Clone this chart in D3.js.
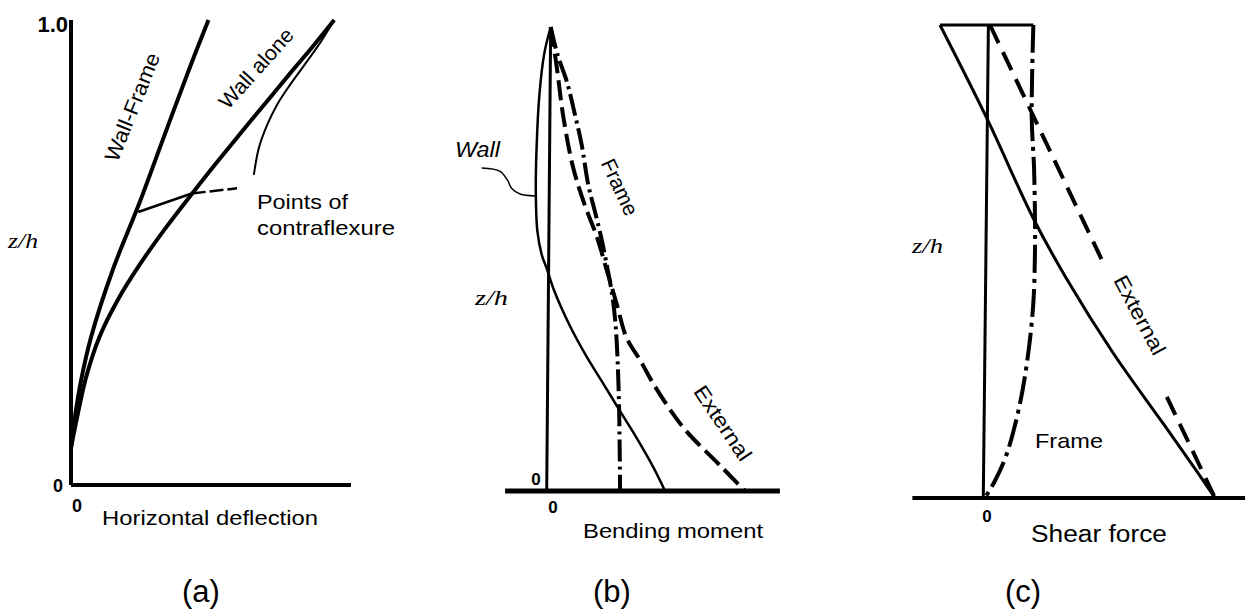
<!DOCTYPE html>
<html><head><meta charset="utf-8">
<script src="https://cdn.jsdelivr.net/npm/d3@7"></script>
<style>
body{margin:0;background:#fff}
svg{display:block;background:#fff}
text{font-family:"Liberation Sans",Arial,sans-serif;fill:#000}
</style>
</head><body>
<svg id="chart" width="1250" height="612"></svg>
<script>
// ---------------- DATA ----------------
// Panel (a): [horizontal deflection (relative), z/h]
const aWallFrame = [[0,0.080],[0.012,0.138],[0.036,0.225],[0.072,0.319],[0.150,0.464],[0.246,0.609],[0.335,0.754],[0.425,0.899],[0.491,1.0]];
const aWallAlone = [[0,0.080],[0.024,0.152],[0.054,0.232],[0.102,0.319],[0.168,0.399],[0.250,0.478],[0.341,0.555],[0.437,0.630],[0.521,0.694],[0.605,0.756],[0.701,0.826],[0.778,0.882],[0.862,0.942],[0.940,1.0]];
const aThin = [[0.653,0.667],[0.671,0.725],[0.701,0.775],[0.737,0.819],[0.784,0.862],[0.832,0.902],[0.892,0.953],[0.940,1.0]];
const aLeaderSolid = [[0.240,0.587],[0.431,0.627]];
const aLeaderDash = [[0.431,0.627],[0.593,0.638]];
const aAxisX = [[0,0],[1,0]];
const aAxisY = [[0,0],[0,1]];
const aTickLabels = ["0","0","1.0"];

// Panel (b): [bending moment (relative to external base moment), z/h]
const bExternal = [[0.020,1.0],[0.050,0.916],[0.084,0.806],[0.134,0.696],[0.193,0.615],[0.252,0.549],[0.303,0.476],[0.353,0.403],[0.403,0.330],[0.471,0.282],[0.538,0.231],[0.639,0.165],[0.706,0.128],[0.874,0.055],[1.0,0]];
const bFrame = [[0.020,1.0],[0.054,0.941],[0.101,0.883],[0.143,0.810],[0.176,0.747],[0.210,0.659],[0.244,0.601],[0.277,0.542],[0.303,0.487],[0.328,0.429],[0.345,0.370],[0.356,0.297],[0.365,0.179],[0.370,0]];
const bWall = [[0.020,1.0],[-0.013,0.941],[-0.037,0.853],[-0.050,0.751],[-0.055,0.648],[-0.047,0.560],[-0.025,0.509],[0,0.480],[0.034,0.436],[0.118,0.355],[0.202,0.289],[0.286,0.231],[0.370,0.172],[0.454,0.114],[0.538,0.051],[0.597,0]];
const bWallLeader = [[-0.328,0.696],[-0.235,0.689],[-0.198,0.670],[-0.176,0.652],[-0.134,0.640],[-0.059,0.636]];
const bAxisX = [[-0.21,0],[1.176,0]];
const bAxisY = [[0,0],[0.020,1]];
const bTickLabels = ["0","0"];

// Panel (c): [shear force (relative to external base shear), z/h]
const cWall = [[-0.187,1.0],[0.014,0.804],[0.216,0.591],[0.360,0.463],[0.561,0.306],[0.777,0.157],[0.921,0.057],[1.0,0]];
const cExternalTop = [[0.029,1.0],[0.510,0.505]];
const cExternalBottom = [[0.792,0.214],[1.0,0]];
const cFrame = [[0.216,1.0],[0.209,0.804],[0.219,0.698],[0.223,0.591],[0.223,0.520],[0.216,0.413],[0.194,0.306],[0.158,0.199],[0.101,0.093],[0.050,0.036],[0.007,0]];
const cTop = [[-0.187,1],[0.216,1]];
const cAxisX = [[-0.306,0],[1.13,0]];
const cAxisY = [[0,0],[0.022,1]];
const cTickLabels = ["0"];

// ---------------- DRAW ----------------
const svg = d3.select("#chart");

function drawLine(g, data, sx, sy, o){
  const gen = d3.line().x(d=>sx(d[0])).y(d=>sy(d[1])).curve(o.curve||d3.curveLinear);
  g.append("path").datum(data).attr("d", gen)
    .attr("fill","none").attr("stroke","#000")
    .attr("stroke-width", o.w||3)
    .attr("stroke-dasharray", o.dash||null)
    .attr("stroke-linecap", o.cap||"butt")
    .attr("stroke-linejoin","round");
}
function label(x,y,t,o){
  o=o||{};
  const el = svg.append("text").attr("x",x).attr("y",y).text(t)
    .attr("font-size",o.size||21)
    .attr("text-anchor",o.anchor||"start");
  if(o.family) el.style("font-family",o.family);
  if(o.italic) el.attr("font-style","italic");
  if(o.bold) el.attr("font-weight","bold");
  if(o.len){ el.attr("textLength",o.len).attr("lengthAdjust","spacingAndGlyphs"); }
  if(o.rotate!==undefined){
    el.attr("dominant-baseline","central").attr("text-anchor","middle")
      .attr("transform",`rotate(${o.rotate},${x},${y})`);
  }
  return el;
}
const smooth = d3.curveCatmullRom.alpha(0.5);
const serif = '"Liberation Serif","Times New Roman",serif';

// Panel (a)
{
  const sx = d3.scaleLinear().domain([0,1]).range([71,351]);
  const sy = d3.scaleLinear().domain([0,1]).range([485,20]);
  const g = svg.append("g");
  drawLine(g,aAxisY,sx,sy,{w:4});
  drawLine(g,aAxisX,sx,sy,{w:4});
  drawLine(g,aWallFrame,sx,sy,{w:4,curve:smooth});
  drawLine(g,aWallAlone,sx,sy,{w:4,curve:smooth});
  drawLine(g,aThin,sx,sy,{w:2,curve:smooth});
  drawLine(g,aLeaderSolid,sx,sy,{w:2.5});
  drawLine(g,aLeaderDash,sx,sy,{w:2.5,dash:"14,4"});
  label(58,492,aTickLabels[0],{size:18,bold:true,anchor:"middle"});
  label(77,512,aTickLabels[1],{size:18,bold:true,anchor:"middle"});
  label(68,32,aTickLabels[2],{size:22,bold:true,anchor:"end"});
  label(8,248,"z/h",{size:22,italic:true,family:serif,len:30});
  label(102,525,"Horizontal deflection",{size:21,len:216});
  label(132,107,"Wall-Frame",{size:21,rotate:-68,len:115});
  label(256,68,"Wall alone",{size:21,rotate:-48,len:100});
  label(257,209,"Points of",{size:21,len:91});
  label(257,235,"contraflexure",{size:21,len:138});
  label(201,602,"(a)",{size:31,anchor:"middle"});
}

// Panel (b)
{
  const sx = d3.scaleLinear().domain([0,1]).range([546.7,745]);
  const sy = d3.scaleLinear().domain([0,1]).range([491,27]);
  const g = svg.append("g");
  drawLine(g,bAxisX,sx,sy,{w:5});
  drawLine(g,bAxisY,sx,sy,{w:3});
  drawLine(g,bWall,sx,sy,{w:2.5,curve:smooth});
  drawLine(g,bExternal,sx,sy,{w:4,curve:smooth,dash:"20,7"});
  drawLine(g,bFrame,sx,sy,{w:4,curve:smooth,dash:"22,5,3,5"});
  drawLine(g,bWallLeader,sx,sy,{w:1.5,curve:smooth});
  label(536,485,bTickLabels[0],{size:17,bold:true,anchor:"middle"});
  label(553,513,bTickLabels[1],{size:17,bold:true,anchor:"middle"});
  label(455,157,"Wall",{size:22,italic:true,len:45});
  label(475,305,"z/h",{size:22,italic:true,family:serif,len:33});
  label(620,187,"Frame",{size:21,rotate:65,len:60});
  label(723,423,"External",{size:21,rotate:56,len:86});
  label(583,538,"Bending moment",{size:21,len:180});
  label(612,602,"(b)",{size:31,anchor:"middle"});
}

// Panel (c)
{
  const sx = d3.scaleLinear().domain([0,1]).range([983.3,1215]);
  const sy = d3.scaleLinear().domain([0,1]).range([498,25]);
  const g = svg.append("g");
  drawLine(g,cAxisX,sx,sy,{w:4});
  drawLine(g,cAxisY,sx,sy,{w:3});
  drawLine(g,cTop,sx,sy,{w:3});
  drawLine(g,cWall,sx,sy,{w:3,curve:smooth});
  drawLine(g,cExternalTop,sx,sy,{w:4,dash:"20,10"});
  drawLine(g,cExternalBottom,sx,sy,{w:4,dash:"20,10"});
  drawLine(g,cFrame,sx,sy,{w:4,curve:smooth,dash:"28,6,4,6"});
  label(987,522,cTickLabels[0],{size:17,bold:true,anchor:"middle"});
  label(912,253,"z/h",{size:22,italic:true,family:serif,len:31});
  label(1140,315,"External",{size:21,rotate:62,len:87});
  label(1035,448,"Frame",{size:21,len:68});
  label(1031,542,"Shear force",{size:23,len:136});
  label(1023,602,"(c)",{size:31,anchor:"middle"});
}
</script>
</body></html>
